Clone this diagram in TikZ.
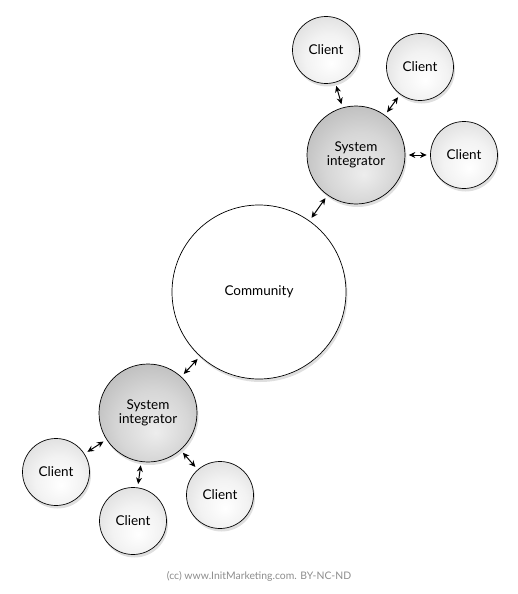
\documentclass[tikz,border=0pt]{standalone}
\usepackage{fontspec}
\setmainfont{Lato}
\usepackage{tikz}
\usetikzlibrary{arrows.meta,shadows}
\definecolor{notegray}{RGB}{140,140,140}
\pgfdeclareradialshading{clientball}{\pgfpoint{4bp}{-10bp}}{color(0bp)=(white); color(18bp)=(white!95!black); color(34bp)=(white!86!black); color(50bp)=(white!72!black)}
\pgfdeclareradialshading{integball}{\pgfpoint{4bp}{-10bp}}{color(0bp)=(white!93!black); color(18bp)=(white!84!black); color(34bp)=(white!72!black); color(50bp)=(white!56!black)}

\begin{document}
\begin{tikzpicture}[
    x=1pt, y=-1pt,
    ball/.style={circle, draw=black, line width=0.7pt, inner sep=0pt, font=\fontsize{13.5}{15.5}\selectfont,
        drop shadow={shadow xshift=1.5pt, shadow yshift=-3pt, opacity=0.25}},
    client/.style={ball, shading=clientball, minimum size=67pt},
    integ/.style={ball, shading=integball, minimum size=98pt, align=center},
    commun/.style={ball, fill=white, minimum size=174pt},
    biarrow/.style={{Stealth[length=6.5pt,width=6pt]}-{Stealth[length=6.5pt,width=6pt]}, line width=1pt, shorten <=3.5pt, shorten >=3.5pt},
]
    \useasboundingbox (0,0) rectangle (518,594);

    % Community in the middle
    \node[commun] (comm) at (259,292) {Community};

    % upper integrator and its clients
    \node[integ] (siA) at (356,155) {System\\[-1pt]integrator};
    \node[client] (clA1) at (326,50) {Client};
    \node[client] (clA2) at (420,67) {Client};
    \node[client] (clA3) at (464,155) {Client};

    % lower integrator and its clients
    \node[integ] (siB) at (148,413) {System\\[-1pt]integrator};
    \node[client] (clB1) at (56,472) {Client};
    \node[client] (clB2) at (133,521) {Client};
    \node[client] (clB3) at (220,495) {Client};

    % links
    \draw[biarrow] (comm) -- (siA);
    \draw[biarrow] (comm) -- (siB);
    \draw[biarrow] (siA) -- (clA1);
    \draw[biarrow] (siA) -- (clA2);
    \draw[biarrow] (siA) -- (clA3);
    \draw[biarrow] (siB) -- (clB1);
    \draw[biarrow] (siB) -- (clB2);
    \draw[biarrow] (siB) -- (clB3);

    % footer
    \node[font=\fontsize{10.4}{12}\selectfont, text=notegray] (note) at (259,576) {(cc) www.InitMarketing.com. BY-NC-ND};
\end{tikzpicture}
\end{document}
